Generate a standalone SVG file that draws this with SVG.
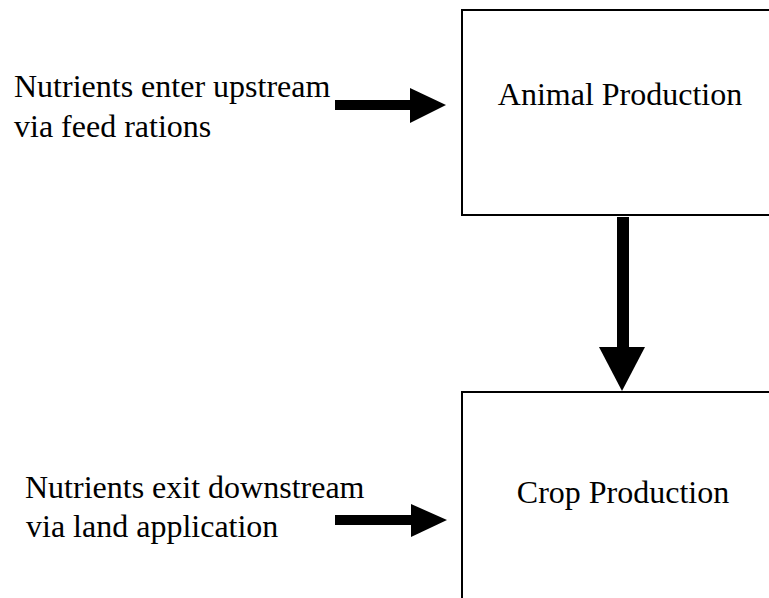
<svg xmlns="http://www.w3.org/2000/svg" width="769" height="598" viewBox="0 0 769 598">
<style>
.t{font-family:'Liberation Serif','Times New Roman',Times,serif;font-size:32px;fill:#000}
.box{fill:#fff;stroke:#000;stroke-width:2}
.arr{fill:#000;stroke:none}
</style>
<rect width="769" height="598" fill="#fff"/>
<g id="animal-production">
<rect class="box" x="462" y="10" width="320" height="205"/>
<text class="t" x="620" y="105" text-anchor="middle">Animal Production</text>
</g>
<g id="crop-production">
<rect class="box" x="462" y="392" width="320" height="220"/>
<text class="t" x="623" y="503" text-anchor="middle">Crop Production</text>
</g>
<g id="input-label">
<text class="t" x="14" y="97">Nutrients enter upstream</text>
<text class="t" x="14" y="137">via feed rations</text>
</g>
<g id="output-label">
<text class="t" x="25" y="498">Nutrients exit downstream</text>
<text class="t" x="26" y="537">via land application</text>
</g>
<g id="connectors">
<rect class="arr" x="335" y="100" width="77" height="10"/>
<polygon class="arr" points="410,88 446,105 410,123"/>
<rect class="arr" x="617" y="217" width="12" height="132"/>
<polygon class="arr" points="599,347 645,347 622,391"/>
<rect class="arr" x="335" y="515" width="77" height="10"/>
<polygon class="arr" points="411,504 447,520 411,537"/>
</g>
</svg>
